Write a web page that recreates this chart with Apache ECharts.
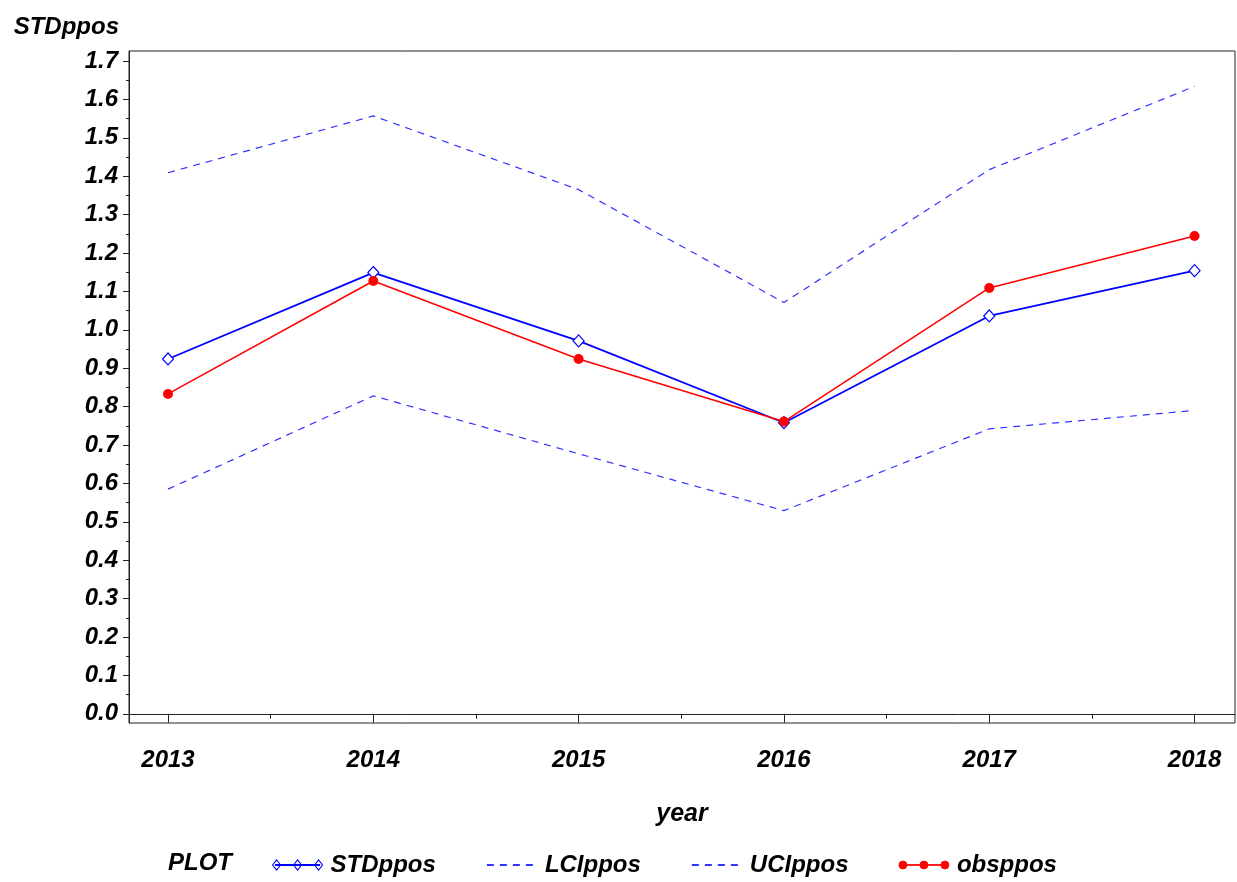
<!DOCTYPE html>
<html>
<head>
<meta charset="utf-8">
<title>STDppos by year</title>
<script src="https://cdn.jsdelivr.net/npm/echarts@6/dist/echarts.min.js"></script>
<style>
  html, body { margin: 0; padding: 0; background: #fff; }
  #chart { width: 1237px; height: 882px; }
</style>
</head>
<body>
<div id="chart"></div>
<script>
  // data
  var years = [2013, 2014, 2015, 2016, 2017, 2018];
  var stdPpos = [0.924, 1.149, 0.971, 0.758, 1.036, 1.154];
  var lciPpos = [0.585, 0.828, 0.677, 0.529, 0.742, 0.790];
  var uciPpos = [1.409, 1.557, 1.365, 1.071, 1.417, 1.634];
  var obsPpos = [0.833, 1.127, 0.924, 0.761, 1.109, 1.244];

  // tick positions
  var yMajor = [0, 0.1, 0.2, 0.3, 0.4, 0.5, 0.6, 0.7, 0.8, 0.9, 1.0, 1.1, 1.2, 1.3, 1.4, 1.5, 1.6, 1.7];
  var yMinor = [0.05, 0.15, 0.25, 0.35, 0.45, 0.55, 0.65, 0.75, 0.85, 0.95, 1.05, 1.15, 1.25, 1.35, 1.45, 1.55, 1.65];
  var xMinor = [2013.5, 2014.5, 2015.5, 2016.5, 2017.5];

  var FONT = '"Liberation Sans", Arial, sans-serif';
  var AXIS_COLOR = '#222';
  var txt = { fontFamily: FONT, fontStyle: 'italic', fontWeight: 'bold', color: '#000' };

  function pairs(vals) {
    return years.map(function (y, i) { return [y, vals[i]]; });
  }
  function font(size, extra) {
    return Object.assign({ fontSize: size }, txt, extra || {});
  }

  // SAS-style legend swatches: a line with three markers on it
  var lineBar = 'M3,6.6L47,6.6L47,7.4L3,7.4Z';
  var diamondIcon = 'path://' + lineBar +
    'M0,7L4,2L8,7L4,12Z M21,7L25,2L29,7L25,12Z M42,7L46,2L50,7L46,12Z';
  var circleIcon = 'path://' + lineBar +
    'M0,7A4,4 0 1,1 8,7A4,4 0 1,1 0,7Z M21,7A4,4 0 1,1 29,7A4,4 0 1,1 21,7Z M42,7A4,4 0 1,1 50,7A4,4 0 1,1 42,7Z';

  var xRange = { min: 2012.81, max: 2018.197 };
  var yRange = { min: -0.024, max: 1.726 };

  var chart = echarts.init(document.getElementById('chart'));
  chart.setOption({
    backgroundColor: '#fff',
    animation: false,
    grid: {
      left: 129, top: 51, right: 2, bottom: 159,
      show: true, borderColor: AXIS_COLOR, borderWidth: 1, backgroundColor: 'transparent'
    },
    xAxis: [{
      type: 'value', position: 'bottom', min: xRange.min, max: xRange.max,
      name: 'year', nameLocation: 'middle', nameGap: 79,
      nameTextStyle: font(25),
      axisLine: { show: true, lineStyle: { color: AXIS_COLOR, width: 1 } },
      axisTick: { show: true, length: 9, customValues: years, lineStyle: { color: AXIS_COLOR } },
      axisLabel: Object.assign(font(24), {
        customValues: years, margin: 25,
        formatter: function (v) { return String(v); }
      }),
      splitLine: { show: false }
    }, {
      // minor ticks only
      type: 'value', position: 'bottom', min: xRange.min, max: xRange.max,
      axisLine: { show: false },
      axisTick: { show: true, length: 5, customValues: xMinor, lineStyle: { color: AXIS_COLOR } },
      axisLabel: { show: false },
      splitLine: { show: false }
    }],
    yAxis: [{
      type: 'value', position: 'left', min: yRange.min, max: yRange.max,
      name: 'STDppos', nameLocation: 'end', nameGap: 12,
      nameTextStyle: font(24, { align: 'right', padding: [0, 10, 0, 0] }),
      axisLine: { show: true, lineStyle: { color: AXIS_COLOR, width: 1 } },
      axisTick: { show: true, length: 6, customValues: yMajor, lineStyle: { color: AXIS_COLOR } },
      axisLabel: Object.assign(font(24), {
        customValues: yMajor, margin: 11,
        formatter: function (v) { return v.toFixed(1); }
      }),
      splitLine: { show: false }
    }, {
      type: 'value', position: 'left', min: yRange.min, max: yRange.max,
      axisLine: { show: false },
      axisTick: { show: true, length: 3, customValues: yMinor, lineStyle: { color: AXIS_COLOR } },
      axisLabel: { show: false },
      splitLine: { show: false }
    }],
    legend: {
      left: 267, top: 848,
      itemWidth: 50, itemHeight: 12, itemGap: 50,
      textStyle: font(24, { padding: [0, 0, 0, 3] }),
      data: [
        { name: 'STDppos', icon: diamondIcon,
          itemStyle: { color: '#fff', borderColor: '#0000ff', borderWidth: 1.1 } },
        'LCIppos',
        'UCIppos',
        { name: 'obsppos', icon: circleIcon,
          itemStyle: { color: '#ff0000', borderColor: '#ff0000', borderWidth: 0.8 } }
      ]
    },
    graphic: [{
      type: 'text', left: 168, top: 851,
      style: { text: 'PLOT', font: 'italic bold 24px ' + FONT, fill: '#000' }
    }],
    series: [{
      name: 'STDppos', type: 'line', data: pairs(stdPpos),
      symbol: 'diamond', symbolSize: [11, 12], showAllSymbol: true,
      lineStyle: { color: '#0000ff', width: 1.8 },
      itemStyle: { color: '#fff', borderColor: '#0000ff', borderWidth: 1.2 },
      z: 3
    }, {
      name: 'LCIppos', type: 'line', data: pairs(lciPpos), symbol: 'none',
      lineStyle: { color: '#3333ff', width: 1.2, type: [7, 6] },
      itemStyle: { color: 'rgba(0,0,0,0)', borderWidth: 0 }
    }, {
      name: 'UCIppos', type: 'line', data: pairs(uciPpos), symbol: 'none',
      lineStyle: { color: '#3333ff', width: 1.2, type: [7, 6] },
      itemStyle: { color: 'rgba(0,0,0,0)', borderWidth: 0 }
    }, {
      name: 'obsppos', type: 'line', data: pairs(obsPpos),
      symbol: 'circle', symbolSize: 10,
      lineStyle: { color: '#ff0000', width: 1.5 },
      itemStyle: { color: '#ff0000' },
      z: 4
    }]
  });
</script>
</body>
</html>
